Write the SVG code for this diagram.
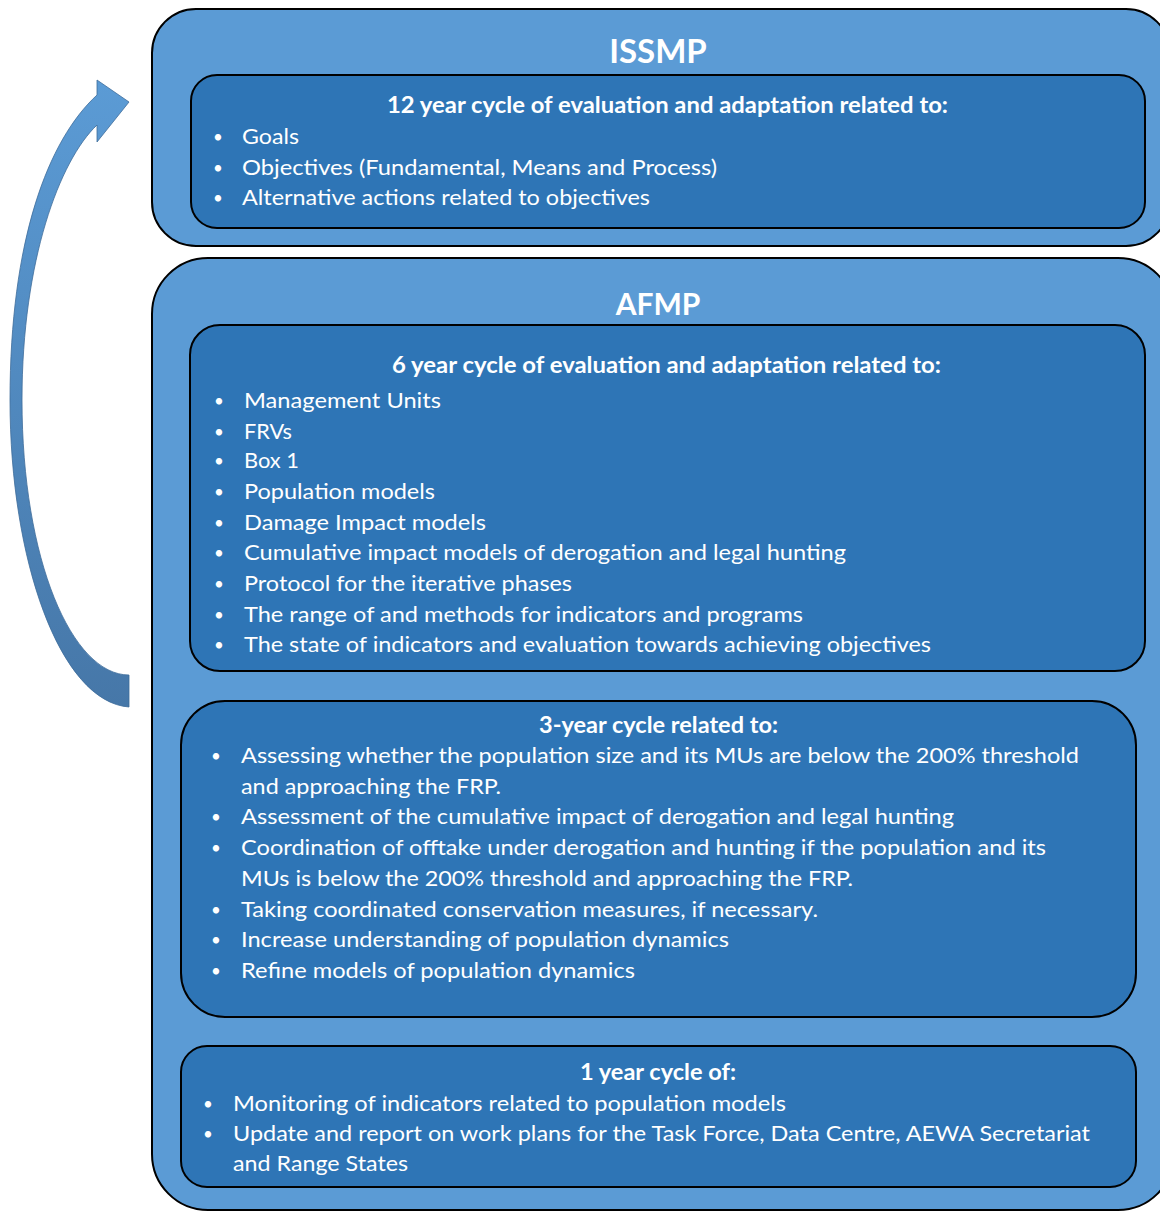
<svg xmlns="http://www.w3.org/2000/svg" width="1160" height="1212" viewBox="0 0 1160 1212">
<defs>
<linearGradient id="arrowGrad" x1="0" y1="0" x2="0" y2="1">
<stop offset="0" stop-color="#5B9BD5"/>
<stop offset="1" stop-color="#4677A8"/>
</linearGradient>
</defs>
<style>
.outer{fill:#5B9BD5;stroke:#000;stroke-width:2}
.inner{fill:#2E75B6;stroke:#000;stroke-width:2}
text{font-family:Lato,"Liberation Sans",sans-serif;fill:#fff}
.title{font-size:33px;font-weight:bold;text-anchor:middle}
.head{font-size:22px;font-weight:bold}
.item{font-size:22px}
.bul{font-size:17px}
</style>
<rect width="1160" height="1212" fill="#fff"/>
<g id="connectors">
<path d="M129,707 C60,702 10,560 10,400 C10,240 48,140 97,95 L97,80 L129,102 L97,142 L97,125 C60,160 22,260 22,400 C22,560 72,675 129,675 Z" fill="url(#arrowGrad)" stroke="#3E6C9A" stroke-width="0.8"/>
</g>
<g id="issmp">
<rect class="outer" x="152" y="9" width="1018" height="237" rx="44" ry="44"/>
<text class="title" x="658" y="63">ISSMP</text>
</g>
<g id="issmp-12year">
<rect class="inner" x="191" y="75" width="954" height="153" rx="26" ry="26"/>
<text class="head" x="387" y="113" textLength="561" lengthAdjust="spacingAndGlyphs">12 year cycle of evaluation and adaptation related to:</text>
<text class="bul" x="213" y="143">•</text><text class="item" x="242" y="144" textLength="57" lengthAdjust="spacingAndGlyphs">Goals</text>
<text class="bul" x="213" y="174">•</text><text class="item" x="242" y="175" textLength="475" lengthAdjust="spacingAndGlyphs">Objectives (Fundamental, Means and Process)</text>
<text class="bul" x="213" y="204">•</text><text class="item" x="242" y="205" textLength="408" lengthAdjust="spacingAndGlyphs">Alternative actions related to objectives</text>
</g>
<g id="afmp">
<rect class="outer" x="152" y="258" width="1022" height="952" rx="56" ry="56"/>
<text class="title" x="658" y="315" style="font-size:30px">AFMP</text>
</g>
<g id="afmp-6year">
<rect class="inner" x="190" y="325" width="955" height="346" rx="30" ry="30"/>
<text class="head" x="392" y="373" textLength="549" lengthAdjust="spacingAndGlyphs">6 year cycle of evaluation and adaptation related to:</text>
<text class="bul" x="214" y="407">•</text><text class="item" x="244" y="408" textLength="197" lengthAdjust="spacingAndGlyphs">Management Units</text>
<text class="bul" x="214" y="438">•</text><text class="item" x="244" y="439" textLength="48" lengthAdjust="spacingAndGlyphs">FRVs</text>
<text class="bul" x="214" y="467">•</text><text class="item" x="244" y="468" textLength="55" lengthAdjust="spacingAndGlyphs">Box 1</text>
<text class="bul" x="214" y="498">•</text><text class="item" x="244" y="499" textLength="191" lengthAdjust="spacingAndGlyphs">Population models</text>
<text class="bul" x="214" y="529">•</text><text class="item" x="244" y="530" textLength="242" lengthAdjust="spacingAndGlyphs">Damage Impact models</text>
<text class="bul" x="214" y="559">•</text><text class="item" x="244" y="560" textLength="602" lengthAdjust="spacingAndGlyphs">Cumulative impact models of derogation and legal hunting</text>
<text class="bul" x="214" y="590">•</text><text class="item" x="244" y="591" textLength="328" lengthAdjust="spacingAndGlyphs">Protocol for the iterative phases</text>
<text class="bul" x="214" y="621">•</text><text class="item" x="244" y="622" textLength="559" lengthAdjust="spacingAndGlyphs">The range of and methods for indicators and programs</text>
<text class="bul" x="214" y="651">•</text><text class="item" x="244" y="652" textLength="687" lengthAdjust="spacingAndGlyphs">The state of indicators and evaluation towards achieving objectives</text>
</g>
<g id="afmp-3year">
<rect class="inner" x="181" y="701" width="955" height="316" rx="44" ry="44"/>
<text class="head" x="539" y="733" textLength="239" lengthAdjust="spacingAndGlyphs">3-year cycle related to:</text>
<text class="bul" x="211" y="762">•</text><text class="item" x="241" y="763" textLength="838" lengthAdjust="spacingAndGlyphs">Assessing whether the population size and its MUs are below the 200% threshold</text>
<text class="item" x="241" y="794" textLength="260" lengthAdjust="spacingAndGlyphs">and approaching the FRP.</text>
<text class="bul" x="211" y="823">•</text><text class="item" x="241" y="824" textLength="713" lengthAdjust="spacingAndGlyphs">Assessment of the cumulative impact of derogation and legal hunting</text>
<text class="bul" x="211" y="854">•</text><text class="item" x="241" y="855" textLength="805" lengthAdjust="spacingAndGlyphs">Coordination of offtake under derogation and hunting if the population and its</text>
<text class="item" x="241" y="886" textLength="612" lengthAdjust="spacingAndGlyphs">MUs is below the 200% threshold and approaching the FRP.</text>
<text class="bul" x="211" y="916">•</text><text class="item" x="241" y="917" textLength="577" lengthAdjust="spacingAndGlyphs">Taking coordinated conservation measures, if necessary.</text>
<text class="bul" x="211" y="946">•</text><text class="item" x="241" y="947" textLength="488" lengthAdjust="spacingAndGlyphs">Increase understanding of population dynamics</text>
<text class="bul" x="211" y="977">•</text><text class="item" x="241" y="978" textLength="394" lengthAdjust="spacingAndGlyphs">Refine models of population dynamics</text>
</g>
<g id="afmp-1year">
<rect class="inner" x="181" y="1046" width="955" height="141" rx="26" ry="26"/>
<text class="head" x="580" y="1080" textLength="156" lengthAdjust="spacingAndGlyphs">1 year cycle of:</text>
<text class="bul" x="203" y="1110">•</text><text class="item" x="233" y="1111" textLength="553" lengthAdjust="spacingAndGlyphs">Monitoring of indicators related to population models</text>
<text class="bul" x="203" y="1140">•</text><text class="item" x="233" y="1141" textLength="857" lengthAdjust="spacingAndGlyphs">Update and report on work plans for the Task Force, Data Centre, AEWA Secretariat</text>
<text class="item" x="233" y="1171" textLength="175" lengthAdjust="spacingAndGlyphs">and Range States</text>
</g>
</svg>
